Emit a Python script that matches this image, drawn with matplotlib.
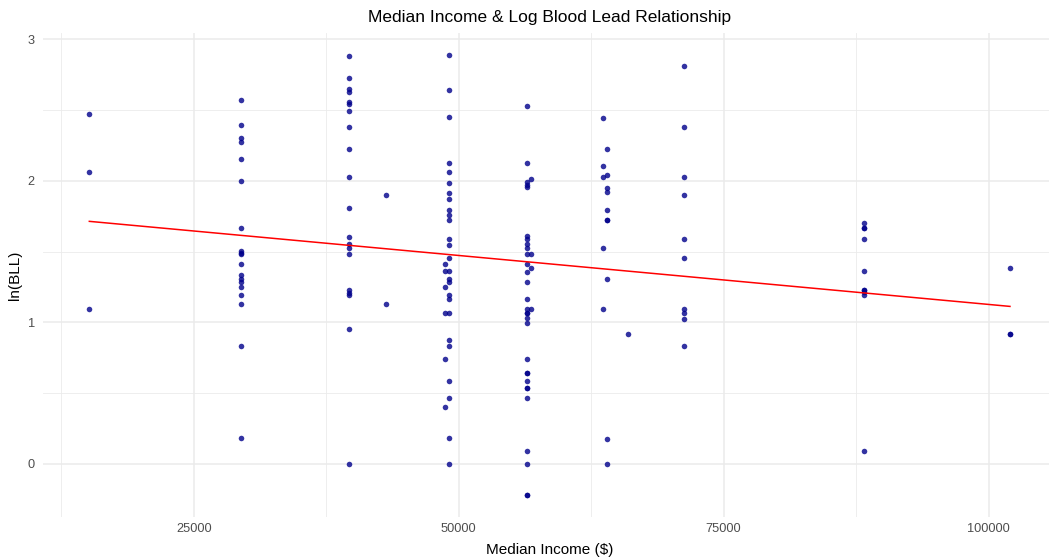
import numpy as np
import matplotlib.pyplot as plt
from matplotlib.ticker import MultipleLocator

# median household income per area and the log blood lead values measured there
income_a = [15140] * 3
lnbll_a = [2.470, 2.064, 1.096]
income_b = [29490] * 19
lnbll_b = [2.571, 2.395, 2.300, 2.277, 2.152, 2.001, 1.666, 1.508, 1.494, 1.480,
           1.412, 1.334, 1.310, 1.282, 1.251, 1.193, 1.129, 0.832, 0.181]
income_c = [39660] * 20
lnbll_c = [2.882, 2.727, 2.647, 2.628, 2.555, 2.545, 2.494, 2.380, 2.229, 2.027,
           1.808, 1.607, 1.551, 1.523, 1.480, 1.226, 1.207, 1.191, 0.955, 0.0]
income_d = [43145] * 2
lnbll_d = [1.902, 1.129]
income_e = [49077] * 26
lnbll_e = [2.892, 2.640, 2.449, 2.128, 2.064, 1.987, 1.918, 1.871, 1.794, 1.758,
           1.723, 1.591, 1.548, 1.454, 1.360, 1.310, 1.282, 1.197, 1.167, 1.063,
           0.877, 0.832, 0.584, 0.467, 0.181, 0.0]
income_f = [48730] * 6
lnbll_f = [1.414, 1.360, 1.251, 1.063, 0.740, 0.403]
income_g = [56450] * 30
lnbll_g = [2.529, 2.128, 1.989, 1.973, 1.956, 1.612, 1.593, 1.556, 1.527, 1.480,
           1.416, 1.357, 1.282, 1.164, 1.096, 1.063, 1.063, 1.028, 0.994, 0.742,
           0.643, 0.643, 0.585, 0.533, 0.533, 0.467, 0.092, 0.0, -0.222, -0.222]
income_h = [56800] * 4
lnbll_h = [2.015, 1.480, 1.388, 1.096]
income_i = [63635] * 5
lnbll_i = [2.446, 2.105, 2.027, 1.525, 1.096]
income_j = [63955] * 10
lnbll_j = [2.229, 2.041, 1.951, 1.921, 1.794, 1.725, 1.725, 1.306, 0.179, 0.0]
income_k = [65990]
lnbll_k = [0.917]
income_l = [71234] * 10
lnbll_l = [2.811, 2.380, 2.027, 1.904, 1.588, 1.456, 1.096, 1.063, 1.025, 0.832]
income_m = [88277] * 10
lnbll_m = [1.706, 1.668, 1.668, 1.588, 1.360, 1.228, 1.228, 1.214, 1.192, 0.092]
income_n = [102024] * 3
lnbll_n = [1.388, 0.917, 0.917]

income = np.array(income_a + income_b + income_c + income_d + income_e + income_f + income_g
                  + income_h + income_i + income_j + income_k + income_l + income_m + income_n)
ln_bll = np.array(lnbll_a + lnbll_b + lnbll_c + lnbll_d + lnbll_e + lnbll_f + lnbll_g
                  + lnbll_h + lnbll_i + lnbll_j + lnbll_k + lnbll_l + lnbll_m + lnbll_n)

plt.rcParams['font.family'] = ['Liberation Sans', 'DejaVu Sans']

W, H = 1049, 560
fig = plt.figure(figsize=(W / 100, H / 100), dpi=100)
# the panel runs a little past the right edge, as in the reference
ax = fig.add_axes([43.3 / W, 1 - 517.3 / H, (1056 - 43.3) / W, (517.3 - 32.7) / H])

ax.scatter(income, ln_bll, s=16, color='darkblue', alpha=0.8, linewidths=0, zorder=3)

# least squares line, like geom_smooth(method = "lm")
slope, intercept = np.polyfit(income, ln_bll, 1)
xs = np.array([income.min(), income.max()])
ax.plot(xs, intercept + slope * xs, color='red', lw=1.1, zorder=4)

ax.margins(x=0.05, y=0.05)
ax.xaxis.set_major_locator(MultipleLocator(25000))
ax.xaxis.set_minor_locator(MultipleLocator(12500))
ax.yaxis.set_major_locator(MultipleLocator(1))
ax.yaxis.set_minor_locator(MultipleLocator(0.5))
ax.grid(which='major', color='#ebebeb', lw=1.1)
ax.grid(which='minor', color='#ebebeb', lw=0.6)
ax.set_axisbelow(True)
for s in ax.spines.values():
    s.set_visible(False)
ax.tick_params(which='both', length=0, labelsize=9.2, labelcolor='#4d4d4d')
ax.tick_params(axis='x', pad=4)
ax.tick_params(axis='y', pad=6)

ax.set_title('Median Income & Log Blood Lead Relationship', fontsize=12.5, pad=8)
ax.set_xlabel('Median Income ($)', fontsize=11, labelpad=6)
ax.set_ylabel('ln(BLL)', fontsize=11)

fig.savefig('out.png', dpi=100)
